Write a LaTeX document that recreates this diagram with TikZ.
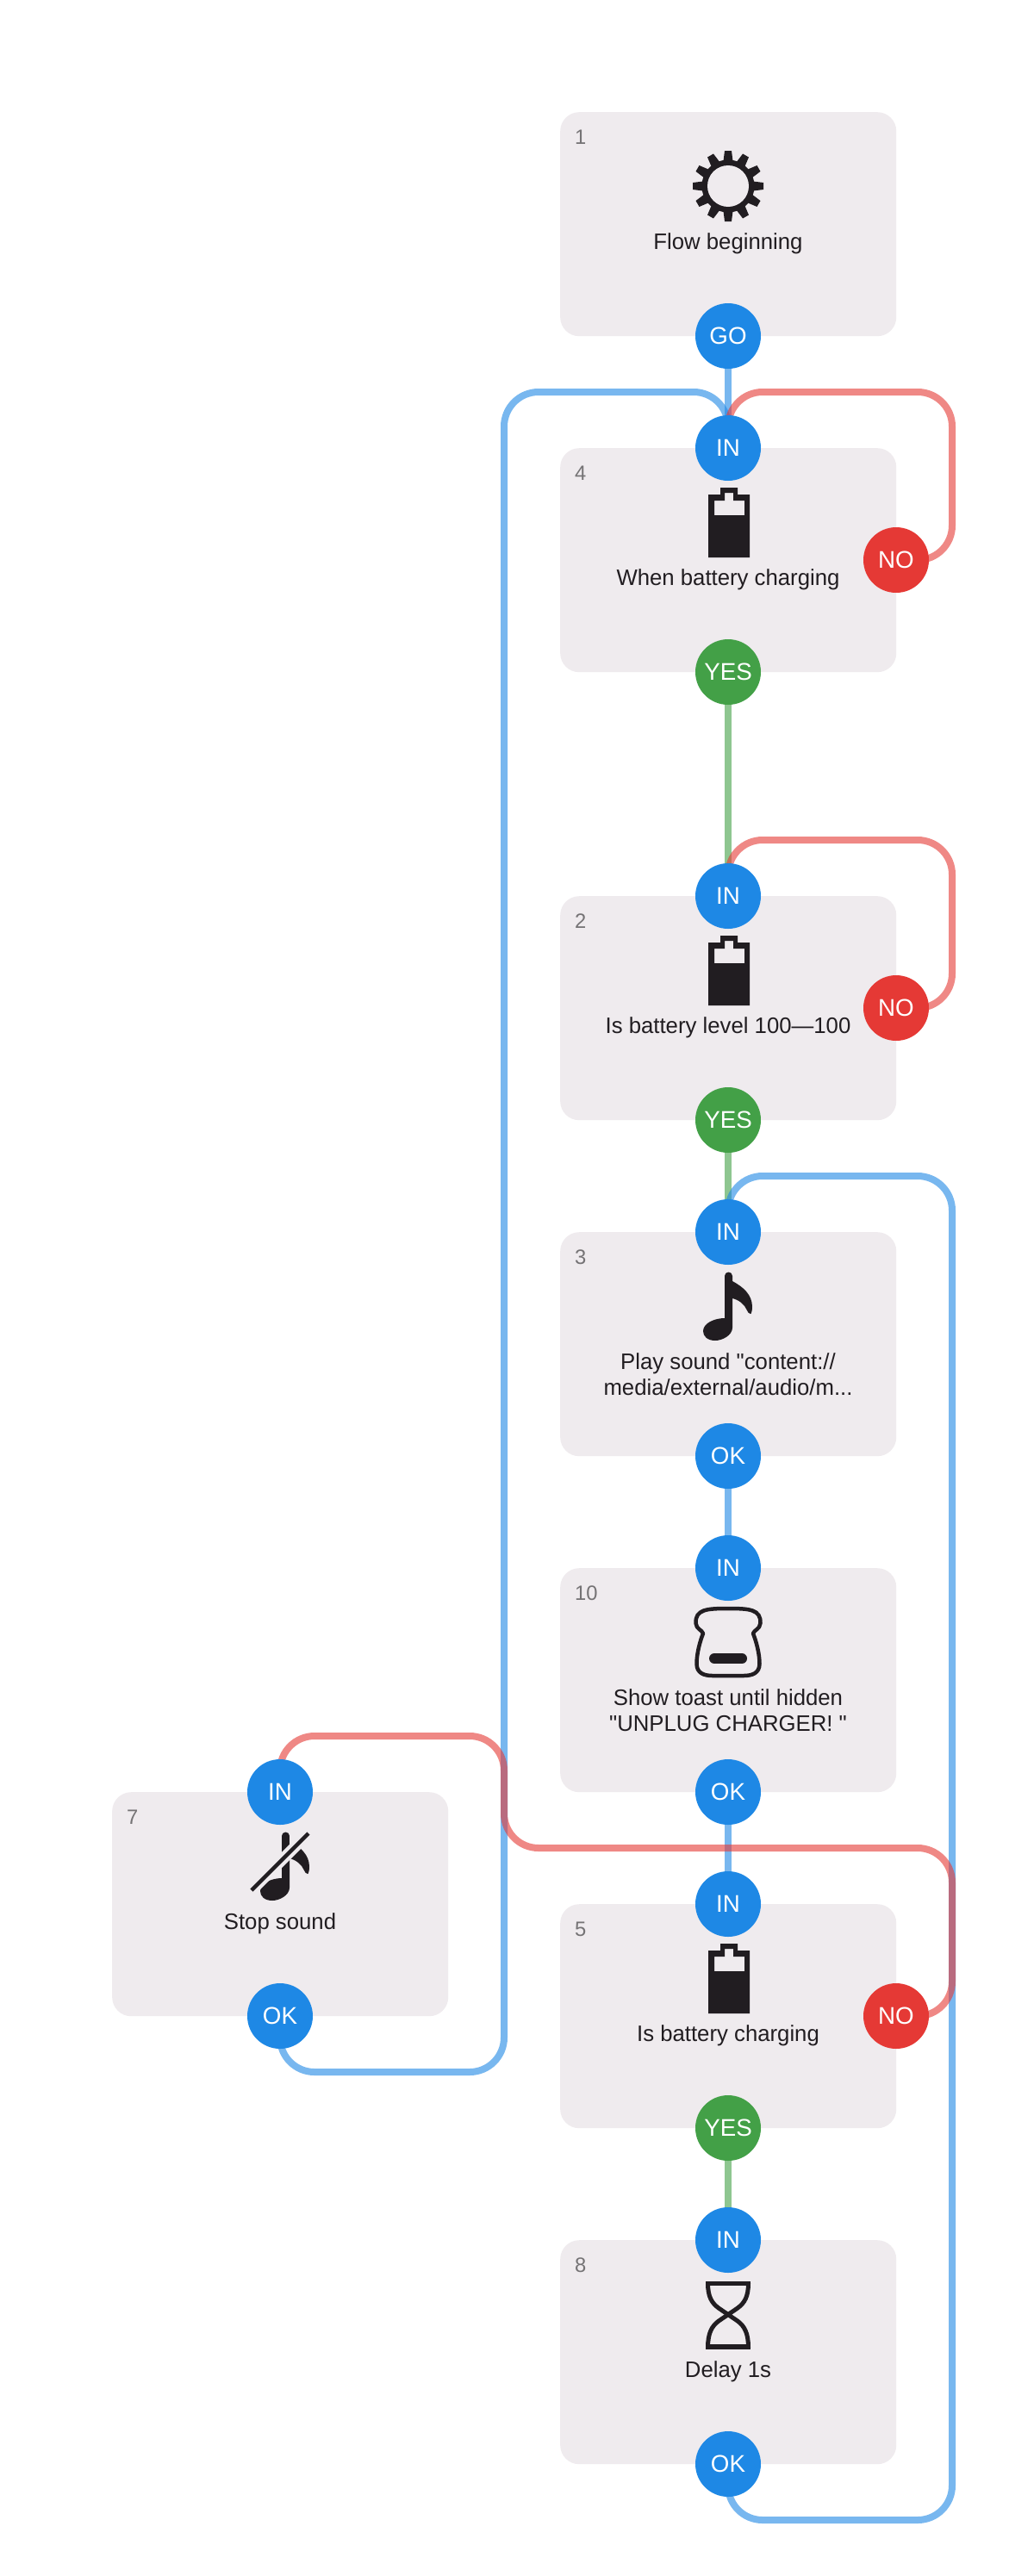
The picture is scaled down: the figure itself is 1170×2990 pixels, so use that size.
\documentclass[tikz,border=0pt]{standalone}
\usepackage{fontspec}
\setmainfont{Liberation Sans}[FakeStretch=0.99,Ligatures=TeXOff]
\usetikzlibrary{calc}
\pgfdeclarelayer{boxes}
\pgfdeclarelayer{wires}
\pgfsetlayers{boxes,wires,main}
\definecolor{boxc}{HTML}{EFEBEE}
\definecolor{ink}{HTML}{211D21}
\definecolor{numc}{HTML}{757375}
\definecolor{bluec}{HTML}{1E88E5}
\definecolor{redc}{HTML}{E53935}
\definecolor{greenc}{HTML}{43A047}
\tikzset{
  flowbox/.style={rectangle,fill=boxc,rounded corners=22pt,minimum width=390pt,minimum height=260pt,inner sep=0pt,anchor=north west},
  port/.style={circle,minimum size=76pt,inner sep=0pt,text=white,font=\fontsize{28}{30}\selectfont},
  bluep/.style={port,fill=bluec},
  redp/.style={port,fill=redc},
  greenp/.style={port,fill=greenc},
  title/.style={text=ink,inner sep=0pt,anchor=base,align=center,font=\fontsize{26}{30}\selectfont},
  numb/.style={text=numc,inner sep=0pt,anchor=base west,font=\fontsize{24}{26}\selectfont},
  wire/.style={line width=8pt,rounded corners=40pt,opacity=0.6},
  bluew/.style={wire,draw=bluec},
  redw/.style={wire,draw=redc},
  greenw/.style={wire,draw=greenc},
}
\newcommand{\mybattery}[2]{%
  \begin{scope}[shift={(#1,#2)}]
    \fill[ink,even odd rule] (-23,54) -- (-9,54) -- (-9,46) -- (11,46) -- (11,54) -- (25,54) -- (25,127) -- (-23,127) -- cycle
      (-16,78) -- (-16,61) -- (-4,61) -- (-4,52) -- (6,52) -- (6,61) -- (19,61) -- (19,78) -- cycle;
  \end{scope}}
\newcommand{\mynote}[2]{%
  \begin{scope}[shift={(#1,#2)}]
    \fill[ink] (-4,51) arc[start angle=180,end angle=360,radius=4.5] -- (5,57)
      .. controls (18,64) and (28,73) .. (28,87)
      .. controls (28,91) and (27,95) .. (26,95)
      .. controls (24,95) and (23,93) .. (22,91)
      .. controls (19,84) and (13,79) .. (5,77)
      -- (5,111)
      .. controls (5,120) and (-7,126) .. (-15,126)
      .. controls (-24,126) and (-29,121) .. (-29,115)
      .. controls (-29,106) and (-16,100) .. (-4,100)
      -- cycle;
  \end{scope}}
\begin{document}
\begin{tikzpicture}[x=1pt,y=-1pt]
\useasboundingbox (0,0) rectangle (1170,2990);
\begin{pgfonlayer}{boxes}
  \fill[white] (0,0) rectangle (1170,2990);
  \node[flowbox] (b1) at (650,130) {};
  \node[flowbox] (b4) at (650,520) {};
  \node[flowbox] (b2) at (650,1040) {};
  \node[flowbox] (b3) at (650,1430) {};
  \node[flowbox] (b10) at (650,1820) {};
  \node[flowbox] (b5) at (650,2210) {};
  \node[flowbox] (b8) at (650,2600) {};
  \node[flowbox] (b7) at (130,2080) {};
\end{pgfonlayer}
% numbers
\node[numb] (n1) at (667,167) {1};
\node[numb] (n4) at (667,557) {4};
\node[numb] (n2) at (667,1077) {2};
\node[numb] (n3) at (667,1467) {3};
\node[numb] (n10) at (667,1857) {10};
\node[numb] (n5) at (667,2247) {5};
\node[numb] (n8) at (667,2637) {8};
\node[numb] (n7) at (147,2117) {7};
% titles
\node[title] (t1) at (845,289) {Flow beginning};
\node[title] (t4) at (845,679) {When battery charging};
\node[title] (t2) at (845,1199) {Is battery level 100—100};
\node[title] (t3) at (845,1619) {Play sound "content://\\media/external/audio/m...};
\node[title] (t10) at (845,2009) {Show toast until hidden\\"UNPLUG CHARGER! "};
\node[title] (t5) at (845,2369) {Is battery charging};
\node[title] (t8) at (845,2759) {Delay 1s};
\node[title] (t7) at (325,2239) {Stop sound};
% ports
\node[bluep] (go1) at (845,390) {GO};
\node[bluep] (in4) at (845,520) {IN};
\node[redp] (no4) at (1040,650) {NO};
\node[greenp] (yes4) at (845,780) {YES};
\node[bluep] (in2) at (845,1040) {IN};
\node[redp] (no2) at (1040,1170) {NO};
\node[greenp] (yes2) at (845,1300) {YES};
\node[bluep] (in3) at (845,1430) {IN};
\node[bluep] (ok3) at (845,1690) {OK};
\node[bluep] (in10) at (845,1820) {IN};
\node[bluep] (ok10) at (845,2080) {OK};
\node[bluep] (in5) at (845,2210) {IN};
\node[redp] (no5) at (1040,2340) {NO};
\node[greenp] (yes5) at (845,2470) {YES};
\node[bluep] (in8) at (845,2600) {IN};
\node[bluep] (ok8) at (845,2860) {OK};
\node[bluep] (in7) at (325,2080) {IN};
\node[bluep] (ok7) at (325,2340) {OK};
% connectors
\begin{pgfonlayer}{wires}
  \draw[bluew] (go1.center) -- (in4.center);
  \draw[greenw] (yes4.center) -- (in2.center);
  \draw[greenw] (yes2.center) -- (in3.center);
  \draw[bluew] (ok3.center) -- (in10.center);
  \draw[bluew] (ok10.center) -- (in5.center);
  \draw[greenw] (yes5.center) -- (in8.center);
  \draw[bluew] (ok7.center) -- ++(0,65) -- ++(260,0) -- ($(in4.center)+(-260,-65)$) -- ($(in4.center)+(0,-65)$) -- (in4.center);
  \draw[bluew] (ok8.center) -- ++(0,65) -- ++(260,0) -- ($(in3.center)+(260,-65)$) -- ($(in3.center)+(0,-65)$) -- (in3.center);
  \draw[redw] (no4.center) -- ++(65,0) -- ($(in4.center)+(260,-65)$) -- ($(in4.center)+(0,-65)$) -- (in4.center);
  \draw[redw] (no2.center) -- ++(65,0) -- ($(in2.center)+(260,-65)$) -- ($(in2.center)+(0,-65)$) -- (in2.center);
  \draw[redw] (no5.center) -- ++(65,0) -- ($(in5.center)+(260,-65)$) -- ($(in7.center)+(260,65)$) -- ($(in7.center)+(260,-65)$) -- ($(in7.center)+(0,-65)$) -- (in7.center);
\end{pgfonlayer}
% gear icon
\begin{scope}[shift={(845,216)}]
  \fill[ink] (0,0) circle[radius=30.5];
  \foreach \a in {0,30,...,330}
    \fill[ink,rotate=\a] (-5.5,-29) -- (-4,-41) -- (4,-41) -- (5.5,-29) -- cycle;
  \fill[boxc] (0,0) circle[radius=24];
\end{scope}
% battery icons
\mybattery{845}{520}
\mybattery{845}{1040}
\mybattery{845}{2210}
% note icon
\mynote{845}{1430}
% toast icon
\begin{scope}[shift={(845,1820)}]
  \draw[ink,line width=4.5pt,line join=round]
    (0,47) .. controls (25,47) and (38,48) .. (37.5,64)
    .. controls (37,71) and (30,72) .. (29,76)
    .. controls (33,86) and (36.5,100) .. (36.5,111)
    .. controls (36.5,122) and (28,125) .. (18,125)
    -- (-18,125)
    .. controls (-28,125) and (-36.5,122) .. (-36.5,111)
    .. controls (-36.5,100) and (-33,86) .. (-29,76)
    .. controls (-30,72) and (-37,71) .. (-37.5,64)
    .. controls (-38,48) and (-25,47) .. (0,47) -- cycle;
  \draw[ink,line width=12pt,line cap=round] (-16,105) -- (16,105);
\end{scope}
% hourglass icon
\begin{scope}[shift={(845,2600)}]
  \fill[ink] (-26,48) rectangle (26,53);
  \fill[ink] (-26,121) rectangle (26,127);
  \draw[ink,line width=5pt]
    (-23.5,50) .. controls (-23.5,66) and (-19,73) .. (-11,79) -- (11,94)
    .. controls (19,100) and (23.5,108) .. (23.5,125);
  \draw[ink,line width=5pt]
    (23.5,50) .. controls (23.5,66) and (19,73) .. (11,79) -- (-11,94)
    .. controls (-19,100) and (-23.5,108) .. (-23.5,125);
\end{scope}
% stop-sound icon
\mynote{331}{2080}
\fill[boxc] (336,2118) -- (368,2118) -- (336,2150) -- cycle;
\draw[boxc,line width=13pt] (360,2126) -- (290,2196);
\draw[ink,line width=4.5pt] (358,2128) -- (292,2194);
\end{tikzpicture}
\end{document}
